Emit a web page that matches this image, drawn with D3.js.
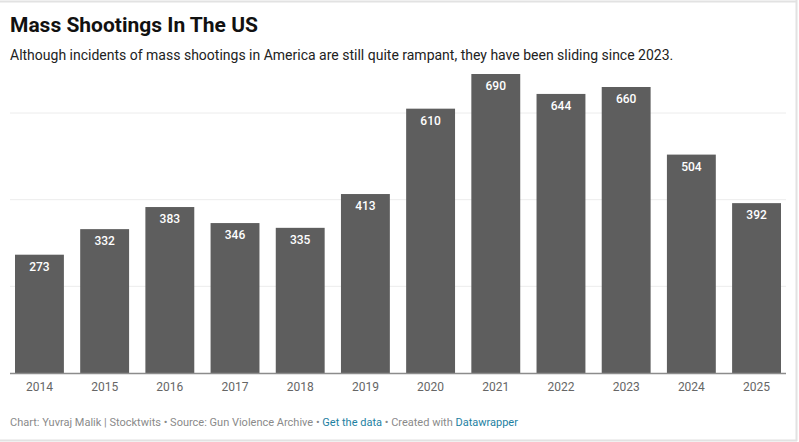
<!DOCTYPE html>
<html>
<head>
<meta charset="utf-8">
<script src="https://cdn.jsdelivr.net/npm/d3@7"></script>
<style>
  body { margin: 0; background: #fff; font-family: Roboto, "Noto Sans", sans-serif; }
  svg text { font-family: Roboto, "Noto Sans", sans-serif; }
</style>
</head>
<body>
<svg id="chart"></svg>
<script>
// Data
const years = ["2014", "2015", "2016", "2017", "2018", "2019", "2020", "2021", "2022", "2023", "2024", "2025"];
const shootings = [273, 332, 383, 346, 335, 413, 610, 690, 644, 660, 504, 392];
const gridValues = [200, 400, 600];

const width = 799, height = 442;
const svg = d3.select("#chart").attr("width", width).attr("height", height);

// Frame lines (top, right, bottom)
svg.append("line").attr("x1", 0).attr("x2", 797).attr("y1", 1.5).attr("y2", 1.5)
  .attr("stroke", "#e2e2e2").attr("stroke-width", 2);
svg.append("line").attr("x1", 796.5).attr("x2", 796.5).attr("y1", 0).attr("y2", 441)
  .attr("stroke", "#e2e2e2").attr("stroke-width", 2);
svg.append("line").attr("x1", 0).attr("x2", 797).attr("y1", 440.5).attr("y2", 440.5)
  .attr("stroke", "#e2e2e2").attr("stroke-width", 2);

// Title and subtitle
svg.append("text").attr("x", 10).attr("y", 32)
  .style("font-size", "21px").style("font-weight", 700).style("fill", "#111")
  .text("Mass Shootings In The US");
svg.append("text").attr("x", 10).attr("y", 60)
  .style("font-size", "14px").style("fill", "#222")
  .text("Although incidents of mass shootings in America are still quite rampant, they have been sliding since 2023.");

// Scales
const x = d3.scaleBand().domain(years).range([15, 781]).paddingInner(0.25).paddingOuter(0);
const y = d3.scaleLinear().domain([0, 600]).range([373, 113]);

// Gridlines
svg.append("g").selectAll("line")
  .data(gridValues)
  .enter().append("line")
  .attr("x1", 10).attr("x2", 786)
  .attr("y1", d => y(d)).attr("y2", d => y(d))
  .attr("stroke", "#ececec").attr("stroke-width", 1);

// Bars
svg.append("g").selectAll("rect")
  .data(years)
  .enter().append("rect")
  .attr("x", d => x(d))
  .attr("y", (d, i) => y(shootings[i]))
  .attr("width", x.bandwidth())
  .attr("height", (d, i) => y(0) - y(shootings[i]))
  .attr("fill", "#5e5e5e");

// Value labels inside bars
svg.append("g").selectAll("text")
  .data(years)
  .enter().append("text")
  .attr("x", d => x(d) + x.bandwidth() / 2)
  .attr("y", (d, i) => y(shootings[i]) + 16)
  .attr("text-anchor", "middle")
  .style("font-size", "12px").style("font-weight", 500).style("fill", "#fff")
  .text((d, i) => shootings[i]);

// Baseline
svg.append("line").attr("x1", 10).attr("x2", 786).attr("y1", y(0) + 0.5).attr("y2", y(0) + 0.5)
  .attr("stroke", "#8c8c8c").attr("stroke-width", 1.5);

// X axis labels
const xAxis = svg.append("g").attr("transform", `translate(0,${y(0)})`)
  .call(d3.axisBottom(x).tickSize(0).tickPadding(9));
xAxis.select(".domain").remove();
xAxis.selectAll("text").style("font-size", "12px").style("fill", "#666")
  .style("font-family", "Roboto, sans-serif");

// Footer
const footer = svg.append("text").attr("x", 10).attr("y", 426)
  .style("font-size", "11px").style("fill", "#8a8a8a");
footer.append("tspan").text("Chart: Yuvraj Malik | Stocktwits \u2022 Source: Gun Violence Archive \u2022 ");
footer.append("tspan").style("fill", "#1d81a2").text("Get the data");
footer.append("tspan").text(" \u2022 Created with ");
footer.append("tspan").style("fill", "#1d81a2").text("Datawrapper");
</script>
</body>
</html>
